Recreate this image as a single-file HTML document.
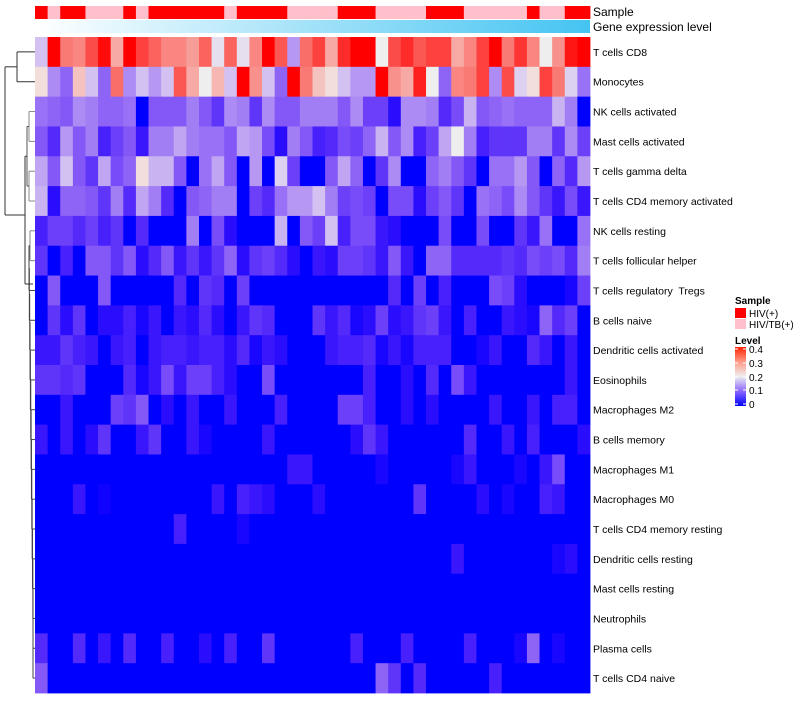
<!DOCTYPE html>
<html><head><meta charset="utf-8">
<style>
body{margin:0;background:#fff;font-family:"Liberation Sans",sans-serif;}
svg text{font-family:"Liberation Sans",sans-serif;white-space:pre;}
</style></head>
<body>
<svg id="chart" width="800" height="700" xmlns="http://www.w3.org/2000/svg">
<defs>
<linearGradient id="geneGrad" x1="0" x2="1" y1="0" y2="0">
<stop offset="0" stop-color="#ffffff"/><stop offset="1" stop-color="#44c4f2"/>
</linearGradient>
<linearGradient id="levelGrad" x1="0" x2="0" y1="1" y2="0">
<stop offset="0" stop-color="#0000ff"/><stop offset="0.25" stop-color="#8a66ff"/><stop offset="0.5" stop-color="#eeeeee"/><stop offset="0.75" stop-color="#ff9a88"/><stop offset="1" stop-color="#ff2200"/>
</linearGradient>
</defs>
<g id="sample-bar"></g>
<rect x="35" y="20" width="555" height="13" fill="url(#geneGrad)"/>
<text x="593" y="16" font-size="12">Sample</text>
<text x="593" y="31" font-size="12">Gene expression level</text>
<g id="cells"></g>
<g id="rowlabels"></g>
<g id="dendro" stroke="#333" stroke-width="1" fill="none"></g>
<g>
<text x="735" y="304" font-size="10" font-weight="bold">Sample</text>
<rect x="735" y="308" width="11" height="10" fill="#ff0000"/>
<text x="749" y="317" font-size="10">HIV(+)</text>
<rect x="735" y="319" width="11" height="10" fill="#ffc0cb"/>
<text x="749" y="328" font-size="10">HIV/TB(+)</text>
<text x="735" y="344" font-size="10" font-weight="bold">Level</text>
<rect x="735" y="347" width="11" height="59" fill="url(#levelGrad)"/>
<g stroke="#fff" stroke-width="1">
<line x1="735" x2="738" y1="349" y2="349"/><line x1="743" x2="746" y1="349" y2="349"/>
<line x1="735" x2="738" y1="363" y2="363"/><line x1="743" x2="746" y1="363" y2="363"/>
<line x1="735" x2="738" y1="377" y2="377"/><line x1="743" x2="746" y1="377" y2="377"/>
<line x1="735" x2="738" y1="390" y2="390"/><line x1="743" x2="746" y1="390" y2="390"/>
<line x1="735" x2="738" y1="404" y2="404"/><line x1="743" x2="746" y1="404" y2="404"/>
</g>
<text x="749" y="353" font-size="10">0.4</text>
<text x="749" y="367" font-size="10">0.3</text>
<text x="749" y="381" font-size="10">0.2</text>
<text x="749" y="394" font-size="10">0.1</text>
<text x="749" y="408" font-size="10">0</text>
</g>
</svg>
<script>
const rowNames = ["T cells CD8","Monocytes","NK cells activated","Mast cells activated","T cells gamma delta","T cells CD4 memory activated","NK cells resting","T cells follicular helper","T cells regulatory  Tregs","B cells naive","Dendritic cells activated","Eosinophils","Macrophages M2","B cells memory","Macrophages M1","Macrophages M0","T cells CD4 memory resting","Dendritic cells resting","Mast cells resting","Neutrophils","Plasma cells","T cells CD4 naive"];
const sampleGroups = "RPRRPPPRPRRRRRRPRRRRPPPPRRRPPPPRRRPPPPPRPPRR".split("");
const row0 = [0.17,0.4,0.29,0.28,0.33,0.39,0.25,0.4,0.34,0.31,0.28,0.28,0.26,0.31,0.19,0.31,0.19,0.28,0.4,0.32,0.14,0.3, 0.34,0.25,0.36,0.4,0.4,0.2,0.33,0.36,0.32,0.34,0.34,0.25,0.28,0.34,0.4,0.29,0.35,0.28,0.2,0.27,0.38,0.4];
const row1 = [0.21,0.13,0.1,0.23,0.17,0.1,0.3,0.13,0.17,0.14,0.17,0.32,0.25,0.2,0.24,0.17,0.4,0.27,0.17,0.1,0.4,0.29, 0.23,0.21,0.17,0.14,0.14,0.4,0.27,0.25,0.37,0.2,0.1,0.28,0.29,0.34,0.13,0.33,0.18,0.21,0.34,0.29,0.18,0.11];
const row2 = [0.11,0.1,0.09,0.13,0.12,0.1,0.1,0.11,0,0.09,0.09,0.09,0.12,0.09,0.06,0.13,0.12,0.06,0.13,0.09,0.09,0.12, 0.12,0.12,0.09,0.13,0.07,0.07,0.02,0.13,0.13,0.12,0.05,0.08,0.16,0.09,0.1,0.11,0.1,0.1,0.1,0.16,0.12,0];
const row3 = [0.09,0.05,0.14,0.09,0.12,0.04,0.07,0.09,0.03,0.12,0.12,0.15,0.12,0.11,0.11,0.09,0.15,0.14,0.08,0.02,0.12,0.09, 0.04,0.05,0.08,0.07,0.1,0.16,0.09,0.13,0.04,0.07,0.15,0.2,0.12,0.04,0.06,0.06,0.06,0.12,0.12,0.06,0.13,0.07];
const row4 = [0.15,0.09,0.17,0.09,0.06,0.15,0.08,0.1,0.21,0.16,0.16,0.09,0,0.11,0.15,0.09,0,0.14,0,0.18,0.07,0, 0,0.09,0.15,0.1,0,0.06,0.13,0,0,0.1,0.12,0.09,0.06,0,0.11,0.11,0.14,0.09,0,0.1,0.05,0.14];
const row5 = [0.16,0.02,0.1,0.1,0.09,0.06,0.12,0.05,0.15,0.12,0.05,0,0.09,0.1,0.12,0.12,0,0.07,0.05,0.11,0.14,0.14, 0.17,0.12,0.07,0.08,0.07,0,0.08,0.08,0.02,0.07,0.09,0.06,0,0.11,0.1,0.08,0.13,0.09,0.06,0.03,0.08,0.03];
const row6 = [0.04,0.07,0.07,0.05,0.07,0.04,0.06,0,0.05,0,0,0,0.12,0,0.08,0.02,0,0,0,0.16,0,0.09, 0.07,0.17,0.04,0.08,0.08,0.03,0.02,0,0,0,0.08,0,0,0.08,0,0,0.06,0.03,0.11,0,0,0.11];
const row7 = [0.06,0,0.04,0,0.09,0.09,0.06,0.09,0.02,0.05,0.09,0.03,0.06,0.03,0.06,0.1,0.02,0.06,0.07,0.05,0.02,0, 0.03,0.02,0.07,0.07,0.06,0.03,0.09,0.03,0,0.1,0.1,0.05,0.05,0.05,0.05,0.06,0.05,0.08,0.07,0.08,0.05,0.12];
const row8 = [0,0.09,0,0,0,0.09,0,0,0,0,0,0.05,0,0.06,0.05,0,0.07,0,0,0,0,0, 0,0,0,0,0,0,0.05,0,0.07,0,0.04,0,0,0,0.08,0.07,0.02,0,0,0,0.01,0.07];
const row9 = [0,0.06,0.02,0.06,0,0.02,0.02,0.04,0.01,0.03,0,0.03,0.02,0.05,0.02,0,0.03,0.06,0.05,0,0,0, 0.06,0.03,0.05,0.01,0.02,0.07,0.02,0.03,0.06,0.07,0.03,0,0.04,0,0,0.03,0.02,0.01,0.1,0.05,0.07,0];
const row10 = [0.03,0.03,0.06,0.04,0.03,0,0.03,0.04,0,0.03,0.04,0.04,0.03,0.04,0.04,0.02,0.05,0.01,0.03,0.02,0,0, 0,0.03,0.04,0.04,0.05,0.01,0.03,0.01,0.04,0.04,0.04,0,0,0.01,0.03,0,0,0.05,0.03,0,0.03,0];
const row11 = [0.06,0.06,0.05,0.06,0,0,0,0.05,0.01,0.03,0.08,0.03,0.07,0.07,0.04,0.02,0,0,0.08,0,0,0, 0,0,0,0,0.04,0,0,0.02,0,0.05,0,0.08,0.03,0,0,0,0,0,0,0,0.03,0];
const row12 = [0,0,0.03,0,0,0,0.07,0.06,0.09,0,0.02,0,0.03,0,0,0.03,0,0,0,0.04,0,0, 0,0,0.07,0.07,0.04,0,0,0.02,0,0.02,0,0,0,0,0.03,0,0,0.03,0,0.04,0.04,0];
const row13 = [0.03,0,0.03,0,0.02,0.06,0,0,0.03,0.06,0,0,0.03,0.01,0,0,0,0,0.03,0,0,0, 0,0,0,0.02,0.06,0.03,0,0,0,0,0,0,0.05,0,0,0.03,0,0.04,0,0,0,0.02];
const row14 = [0,0,0,0,0,0,0,0,0,0,0,0,0,0,0,0,0,0,0,0,0.03,0.03, 0,0,0,0,0,0.01,0,0,0,0,0,0.01,0.03,0,0,0,0.01,0,0.03,0.08,0,0];
const row15 = [0,0,0,0.03,0,0.005,0,0,0,0,0,0,0,0,0.03,0,0.04,0.03,0.02,0,0,0, 0.02,0,0,0,0,0,0,0,0.06,0,0,0,0,0.02,0,0.01,0,0,0.04,0.03,0,0];
const row16 = [0,0,0,0,0,0,0,0,0,0,0,0.04,0,0,0,0,0.01,0,0,0,0,0, 0,0,0,0,0,0,0,0,0,0,0,0,0,0,0,0,0,0,0,0,0,0];
const row17 = [0,0,0,0,0,0,0,0,0,0,0,0,0,0,0,0,0,0,0,0,0,0, 0,0,0,0,0,0,0,0,0,0,0,0.03,0,0,0,0,0,0,0,0.01,0.02,0];
const row18 = [0,0,0,0,0,0,0,0,0,0,0,0,0,0,0,0,0,0,0,0,0,0, 0,0,0,0,0,0,0,0,0,0,0,0,0,0,0,0,0,0,0,0,0,0];
const row19 = [0,0,0,0,0,0,0,0,0,0,0,0,0,0,0,0,0,0,0,0,0,0, 0,0,0,0,0,0,0,0,0,0,0,0,0,0,0,0,0,0,0,0,0,0];
const row20 = [0.05,0,0,0.05,0,0.03,0,0.05,0,0,0.04,0,0,0.02,0,0.04,0,0,0.06,0,0,0, 0,0,0,0.04,0,0,0,0.04,0,0,0,0,0.04,0,0,0,0.01,0.1,0,0.01,0,0];
const row21 = [0.09,0,0,0,0,0,0,0,0,0,0,0,0,0,0,0,0,0,0,0,0,0, 0,0,0,0,0,0.1,0.06,0,0.05,0,0,0,0,0,0.04,0,0,0,0,0,0,0];
const values = [row0,row1,row2,row3,row4,row5,row6,row7,row8,row9,row10,row11,row12,row13,row14,row15,row16,row17,row18,row19,row20,row21];

const NS = "http://www.w3.org/2000/svg";
const X0 = 35, X1 = 590, Y0 = 37, Y1 = 693;
const nCol = sampleGroups.length, nRow = rowNames.length;
const cw = (X1 - X0) / nCol, rh = (Y1 - Y0) / nRow;
const xPos = i => X0 + i * cw;
const yPos = r => Y0 + r * rh;
function color(v){
  const t = Math.max(0, Math.min(1, v / 0.4));
  let r,g,b;
  if (t < 0.5){ const k = t/0.5; r = 238*Math.pow(k,0.75); g = 238*Math.pow(k,1.25); b = 255 - 17*k; }
  else { const k = (t-0.5)/0.5; r = 238 + 17*Math.pow(k,0.5); g = 238*(1-Math.pow(k,0.9)); b = 238*(1-Math.pow(k,0.85)); }
  return `rgb(${Math.round(r)},${Math.round(g)},${Math.round(b)})`;
}
const sb = document.getElementById('sample-bar');
sampleGroups.forEach((s,i)=>{
  const el = document.createElementNS(NS,'rect');
  el.setAttribute('x', xPos(i)); el.setAttribute('y', 6);
  el.setAttribute('width', cw + 0.4); el.setAttribute('height', 13);
  el.setAttribute('fill', s === 'R' ? '#ff0000' : '#ffc0cb');
  
  
  sb.appendChild(el);
});
const cells = document.getElementById('cells');
values.forEach((row,r)=>{
  row.forEach((v,c)=>{
    const el = document.createElementNS(NS,'rect');
    el.setAttribute('x', xPos(c)); el.setAttribute('y', yPos(r));
    el.setAttribute('width', cw + 0.4); el.setAttribute('height', rh + 0.4);
    el.setAttribute('fill', color(v));
    
    
    cells.appendChild(el);
  });
});
const rl = document.getElementById('rowlabels');
rowNames.forEach((n,r)=>{
  const el = document.createElementNS(NS,'text');
  el.setAttribute('x', 593); el.setAttribute('y', yPos(r) + rh/2 + 4);
  el.setAttribute('font-size', '10.5');
  
  
  el.textContent = n;
  rl.appendChild(el);
});
const d = document.getElementById('dendro');
const yc = r => yPos(r) + rh/2;
function line(x1,y1,x2,y2,col){
  const el = document.createElementNS(NS,'line');
  el.setAttribute('x1',x1);el.setAttribute('y1',y1);el.setAttribute('x2',x2);el.setAttribute('y2',y2);
  if(col) el.setAttribute('stroke',col);
  
  
  d.appendChild(el);
}
function join(x, ya, yb, xa, xb, col){ line(x,ya,x,yb,col); line(x,ya,xa,ya,col); line(x,yb,xb,yb,col); }
join(17, yc(0), yc(1), 35, 35);
join(29, yc(2), yc(3), 35, 35, '#888');
join(29, yc(4), yc(5), 35, 35, '#888');
join(27, (yc(2)+yc(3))/2, (yc(4)+yc(5))/2, 29, 29, '#555');
join(30, yc(6), yc(7), 35, 35, '#888');
let prevY = (yc(6)+yc(7))/2, prevX = 30;
for (let r = 8; r < nRow; r++){
  const x = Math.min(34, 30 + (r-8)*0.35);
  join(x - 1, prevY, yc(r), prevX, 35, '#444');
  prevY = (prevY + yc(r))/2; prevX = x - 1;
}
join(25, (yc(2)+yc(5))/2, 284, 27, prevX, '#333');
join(5, (yc(0)+yc(1))/2, 215, 17, 25);
</script>
</body></html>
